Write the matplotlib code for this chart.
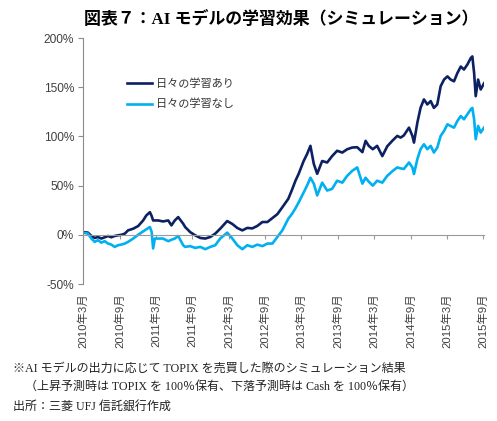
import matplotlib
matplotlib.use("Agg")
import matplotlib.pyplot as plt
import matplotlib.dates as mdates
import numpy as np
import pandas as pd

# values (cumulative return, %)
dates = ['2010-03-01', '2010-03-26', '2010-04-12', '2010-04-29', '2010-05-15',
         '2010-06-01', '2010-06-18', '2010-07-05', '2010-07-21', '2010-08-07',
         '2010-08-24', '2010-09-10', '2010-09-27', '2010-10-13', '2010-11-08',
         '2010-12-03', '2010-12-28', '2011-01-13', '2011-01-31', '2011-02-09',
         '2011-02-16', '2011-02-25', '2011-03-13', '2011-04-07', '2011-05-03',
         '2011-05-19', '2011-06-05', '2011-06-22', '2011-07-17', '2011-07-27',
         '2011-08-21', '2011-09-15', '2011-10-11', '2011-11-05', '2011-11-30',
         '2011-12-25', '2012-01-19', '2012-02-23', '2012-03-20', '2012-04-14',
         '2012-05-09', '2012-06-03', '2012-06-28', '2012-07-23', '2012-08-18',
         '2012-09-12', '2012-10-07', '2012-11-01', '2012-11-26', '2012-12-26',
         '2013-01-14', '2013-01-31', '2013-02-16', '2013-03-13', '2013-03-30',
         '2013-04-16', '2013-05-03', '2013-05-20', '2013-06-14', '2013-07-09',
         '2013-08-03', '2013-08-28', '2013-09-23', '2013-10-18', '2013-11-12',
         '2013-12-07', '2014-01-02', '2014-01-18', '2014-02-03', '2014-02-23',
         '2014-03-17', '2014-04-12', '2014-05-07', '2014-06-01', '2014-06-26',
         '2014-07-13', '2014-07-29', '2014-08-24', '2014-09-10', '2014-09-18',
         '2014-10-05', '2014-10-21', '2014-11-07', '2014-11-24', '2014-12-11',
         '2014-12-27', '2015-01-13', '2015-01-30', '2015-02-16', '2015-03-05',
         '2015-03-21', '2015-04-07', '2015-04-24', '2015-05-11', '2015-05-27',
         '2015-06-13', '2015-06-30', '2015-07-08', '2015-07-17', '2015-07-25',
         '2015-08-06', '2015-08-19', '2015-09-05']

with_learning = [2.8, 2.2, -1.2, -3.2, -2.2, -3.8, -2.5, -1.2, -2.5, -1.2,
                 -0.5, 0, 1.2, 4.5, 6.2, 8.9, 14.6, 19.7, 23, 19,
                 14.6, 14.6, 14.6, 13.6, 14.6, 9.6, 14.6, 18, 11.3, 7.9,
                 2.8, -0.5, -3.2, -3.8, -2.2, 1.2, 6.2, 14, 11, 6.9,
                 4.5, 7, 6.5, 9, 13, 13, 17, 21, 28, 36.6,
                 46, 55, 62, 75, 82, 90.4, 72, 62, 75, 73.5,
                 80, 85.4, 83.6, 87, 88.7, 89, 84, 95.5, 90.4, 87,
                 90.4, 80, 90, 95.5, 100.5, 98.8, 101, 108.9, 100.5, 93.7,
                 114, 129, 137.6, 132.5, 135.9, 129, 132.5, 151, 157.8, 161,
                 157.8, 156, 164.4, 171, 168, 173, 179.6, 181.3, 164.4, 140.9,
                 157.8, 147.7, 154]

without_learning = [2.2, 1.2, -3.8, -7.2, -5.5, -7.9, -6.5, -8.9, -9.9, -12.3,
                    -10.6, -9.9, -8.9, -7.2, -3.8, 0, 3.5, 5.6, 7.9, 2.8,
                    -13.9, -3.8, -3.8, -3.8, -6.5, -5, -3.8, -1.2, -10.6, -12.3,
                    -11.5, -13.3, -12.3, -14.6, -12.3, -10.6, -3.8, 2.2, -3.8, -10.6,
                    -14.6, -10.6, -12.3, -10, -11.5, -8.9, -8.9, -2.2, 4.5, 16.4,
                    21.4, 27, 33, 43, 50, 58, 52, 40, 53, 45,
                    46.7, 55, 53, 60, 65, 68.5, 52, 58, 54, 50,
                    55, 53, 60, 64.5, 68.5, 67.5, 66.9, 73.5, 68.5, 61.8,
                    77, 87, 92, 87, 90.4, 83.6, 88.7, 100.5, 105.6, 112.3,
                    110.6, 108.9, 115.7, 120.7, 117.4, 122.4, 127.5, 129, 117.4, 97.2,
                    110.6, 103.9, 109]

series_names = ['日々の学習あり', '日々の学習なし']
tick_months = ['2010-03', '2010-09', '2011-03', '2011-09', '2012-03', '2012-09',
               '2013-03', '2013-09', '2014-03', '2014-09', '2015-03', '2015-09']

title = '図表７：AI モデルの学習効果（シミュレーション）'
notes = ['※AI モデルの出力に応じて TOPIX を売買した際のシミュレーション結果',
         '　（上昇予測時は TOPIX を 100％保有、下落予測時は Cash を 100％保有）',
         '出所：三菱 UFJ 信託銀行作成']

x = mdates.date2num(pd.to_datetime(dates))
ticks = mdates.date2num(pd.to_datetime(tick_months))
tick_labels = ['{}年{}月'.format(t[:4], int(t[5:])) for t in tick_months]

jp = ['Liberation Sans', 'Noto Sans CJK JP']
plt.rcParams['font.family'] = jp

fig = plt.figure(figsize=(4.97, 4.21), dpi=100)
ax = fig.add_axes([0.167, 0.3254, 0.807, 0.5843])

ax.plot(x, with_learning, color='#0c2162', lw=1.9, label=series_names[0])
ax.plot(x, without_learning, color='#00b0f0', lw=1.9, label=series_names[1])

ax.set_ylim(-50, 200)
ax.set_yticks(np.arange(-50, 201, 50))
ax.yaxis.set_major_formatter(plt.FuncFormatter(lambda v, p: '{:.0f}%'.format(v)))
ax.set_xlim(ticks[0], ticks[-1] + 4)

for s in ['top', 'right']:
    ax.spines[s].set_visible(False)
ax.spines['left'].set_color('#8c8c8c')
ax.spines['bottom'].set_position(('data', 0))
ax.spines['bottom'].set_color('#9a9a9a')
ax.set_xticks(ticks)
ax.tick_params(axis='x', direction='out', length=3, color='#9a9a9a', labelbottom=False)
ax.tick_params(axis='y', direction='out', length=3.5, color='#8c8c8c', pad=3,
               labelsize=8.6, labelcolor='#404040')

sec = ax.secondary_xaxis('bottom')
sec.set_xticks(ticks, tick_labels)
sec.spines['bottom'].set_visible(False)
sec.tick_params(length=0, pad=7, labelsize=8.2, labelcolor='#404040', labelrotation=90)

leg = ax.legend(loc='center left', bbox_to_anchor=(0.11, 0.772), frameon=False,
                borderaxespad=0, borderpad=0, handlelength=2.2, handletextpad=0.4,
                labelspacing=0.85, prop={'family': jp, 'size': 8})
for t in leg.get_texts():
    t.set_color('#333333')

fig.text(0.566, 0.953, title, ha='center', va='center', fontsize=12.2,
         fontweight='bold', family=['Liberation Serif', 'Noto Sans CJK JP'])

note_y = [0.124, 0.081, 0.034]
for s, ny in zip(notes, note_y):
    fig.text(0.026, ny, s, ha='left', va='center', fontsize=8.65, color='#222222',
             family=['Liberation Serif', 'Noto Sans CJK JP'])

fig.savefig('out.png', dpi=100, facecolor='white')
